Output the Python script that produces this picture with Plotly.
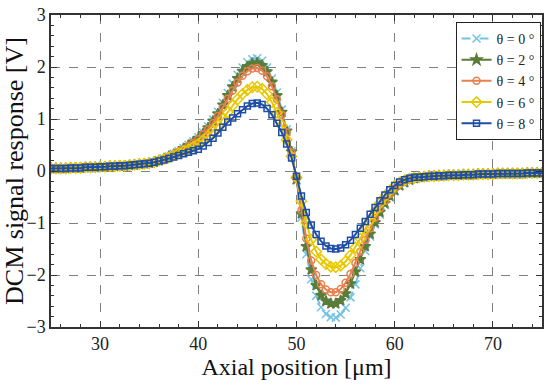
import plotly.graph_objects as go

# Axial positions [um]
x_left = [25, 25.5, 26, 26.5, 27, 27.5, 28, 28.5, 29, 29.5, 30, 30.5, 31, 31.5,
          32, 32.5, 33, 33.5, 34, 34.5, 35, 35.5]
x_mid = [36, 36.5, 37, 37.5, 38, 38.5, 39, 39.5, 40, 40.5, 41, 41.5, 42, 42.5,
         43, 43.5, 44, 44.5, 45, 45.5, 46, 46.5, 47, 47.5, 48, 48.5, 49, 49.5,
         50, 50.5, 51, 51.5, 52, 52.5, 53, 53.5, 54, 54.5, 55, 55.5, 56, 56.5,
         57, 57.5, 58, 58.5, 59, 59.5, 60, 60.5, 61, 61.5, 62]
x_right = [62.5, 63, 63.5, 64, 64.5, 65, 65.5, 66, 66.5, 67, 67.5, 68, 68.5, 69,
           69.5, 70, 70.5, 71, 71.5, 72, 72.5, 73, 73.5, 74, 74.5, 75]

# shared tails (curves overlap there)
tail_left = [0.05, 0.05, 0.05, 0.05, 0.06, 0.06, 0.06, 0.07, 0.07, 0.07, 0.08,
             0.08, 0.09, 0.09, 0.10, 0.10, 0.11, 0.12, 0.13, 0.14, 0.15, 0.17]
tail_right = [-0.12, -0.11, -0.10, -0.10, -0.09, -0.09, -0.08, -0.08, -0.08,
              -0.07, -0.07, -0.07, -0.06, -0.06, -0.06, -0.06, -0.05, -0.05,
              -0.05, -0.05, -0.05, -0.05, -0.04, -0.04, -0.04, -0.04]

mid_t0 = [0.21, 0.24, 0.28, 0.33, 0.38, 0.44, 0.50, 0.57, 0.65, 0.74, 0.86, 0.99,
          1.14, 1.31, 1.50, 1.68, 1.85, 1.99, 2.09, 2.15, 2.17, 2.12, 1.99, 1.78,
          1.51, 1.18, 0.80, 0.38, -0.18, -0.90, -1.60, -2.08, -2.40, -2.62, -2.75,
          -2.81, -2.82, -2.76, -2.63, -2.43, -2.18, -1.87, -1.54, -1.26, -1.03,
          -0.84, -0.66, -0.51, -0.39, -0.29, -0.22, -0.18, -0.15]
mid_t2 = [0.20, 0.24, 0.28, 0.32, 0.37, 0.43, 0.49, 0.56, 0.63, 0.72, 0.83, 0.96,
          1.10, 1.27, 1.45, 1.62, 1.78, 1.92, 2.01, 2.07, 2.08, 2.03, 1.91, 1.71,
          1.45, 1.13, 0.77, 0.37, -0.16, -0.82, -1.45, -1.90, -2.20, -2.39, -2.50,
          -2.55, -2.55, -2.49, -2.36, -2.17, -1.94, -1.70, -1.45, -1.21, -0.99,
          -0.79, -0.62, -0.48, -0.37, -0.28, -0.22, -0.17, -0.14]
mid_t4 = [0.20, 0.24, 0.28, 0.32, 0.37, 0.42, 0.48, 0.54, 0.61, 0.70, 0.80, 0.92,
          1.06, 1.22, 1.39, 1.55, 1.70, 1.83, 1.92, 1.97, 1.98, 1.93, 1.82, 1.63,
          1.38, 1.08, 0.74, 0.35, -0.15, -0.75, -1.30, -1.72, -2.00, -2.18, -2.28,
          -2.33, -2.33, -2.27, -2.15, -1.98, -1.77, -1.55, -1.32, -1.10, -0.90,
          -0.72, -0.57, -0.44, -0.34, -0.26, -0.20, -0.16, -0.13]
mid_t6 = [0.20, 0.23, 0.26, 0.30, 0.34, 0.38, 0.42, 0.47, 0.52, 0.59, 0.67, 0.77,
          0.88, 1.00, 1.13, 1.26, 1.38, 1.48, 1.56, 1.61, 1.62, 1.58, 1.48, 1.32,
          1.12, 0.88, 0.60, 0.28, -0.12, -0.58, -1.00, -1.32, -1.55, -1.70, -1.79,
          -1.84, -1.85, -1.82, -1.74, -1.62, -1.47, -1.30, -1.12, -0.94, -0.77,
          -0.62, -0.49, -0.38, -0.29, -0.22, -0.18, -0.15, -0.13]
mid_t8 = [0.19, 0.21, 0.24, 0.27, 0.30, 0.33, 0.36, 0.39, 0.42, 0.48, 0.55, 0.63,
          0.73, 0.84, 0.94, 1.02, 1.10, 1.18, 1.25, 1.30, 1.31, 1.28, 1.20, 1.08,
          0.92, 0.74, 0.52, 0.25, -0.10, -0.48, -0.80, -1.04, -1.22, -1.35, -1.44,
          -1.49, -1.50, -1.48, -1.42, -1.33, -1.22, -1.10, -0.97, -0.83, -0.70,
          -0.57, -0.46, -0.36, -0.28, -0.21, -0.17, -0.14, -0.12]

labels = ["θ = 0 °", "θ = 2 °", "θ = 4 °", "θ = 6 °", "θ = 8 °"]
y_ticks = [-3, -2, -1, 0, 1, 2, 3]
y_tick_text = ["−3", "−2", "−1", "0", "1", "2", "3"]
x_ticks = [30, 40, 50, 60, 70]

x_all = x_left + x_mid + x_right
series = [tail_left + m + tail_right for m in (mid_t0, mid_t2, mid_t4, mid_t6, mid_t8)]

styles = [
    dict(color="#74C3E4", symbol="x-thin-open", dash="dash", size=8),
    dict(color="#5A7D3A", symbol="star", dash="solid", size=8),
    dict(color="#E7804F", symbol="circle-open", dash="solid", size=7),
    dict(color="#E8C800", symbol="diamond-open", dash="solid", size=8),
    dict(color="#1F4EA6", symbol="square-open", dash="solid", size=6),
]

fig = go.Figure()
for lab, ys, st in zip(labels, series, styles):
    fig.add_trace(go.Scatter(
        x=x_all, y=ys, name=lab, mode="lines+markers",
        line=dict(color=st["color"], width=2, dash=st["dash"]),
        marker=dict(symbol=st["symbol"], size=st["size"], color=st["color"],
                    line=dict(color=st["color"], width=1.5)),
    ))

font_family = "Liberation Serif"
axis_common = dict(
    automargin=False,
    showline=True, linecolor="#333333", linewidth=1.5, mirror="ticks",
    ticks="inside", ticklen=6, tickcolor="#333333", tickwidth=1.2,
    showgrid=True, gridcolor="#808080", gridwidth=1, griddash="dash",
    zeroline=False, tickfont=dict(family=font_family, size=18, color="#222222"),
)

fig.update_xaxes(range=[25, 75], tickvals=x_ticks,
                 minor=dict(dtick=2, ticks="inside", ticklen=3, tickcolor="#333333", showgrid=False),
                 title=dict(text="Axial position [μm]", font=dict(family=font_family, size=24, color="#111111"),
                            standoff=5),
                 **axis_common)
fig.update_yaxes(range=[-3, 3], tickvals=y_ticks, ticktext=y_tick_text,
                 minor=dict(dtick=0.2, ticks="inside", ticklen=3, tickcolor="#333333", showgrid=False),
                 title=dict(text="DCM signal response [V]", font=dict(family=font_family, size=26, color="#111111"),
                            standoff=2),
                 **axis_common)

fig.update_layout(
    width=550, height=388,
    margin=dict(l=51, r=8, t=15, b=61),
    paper_bgcolor="white", plot_bgcolor="white",
    font=dict(family=font_family, color="#222222"),
    showlegend=True,
    legend=dict(x=0.997, y=0.978, xanchor="right", yanchor="top",
                bgcolor="white", bordercolor="#222222", borderwidth=1,
                font=dict(family=font_family, size=14, color="#222222"),
                tracegroupgap=0, itemwidth=30),
)

fig.write_html("out.html", config={"displayModeBar": False},
               post_script="document.body.style.margin='0';")
